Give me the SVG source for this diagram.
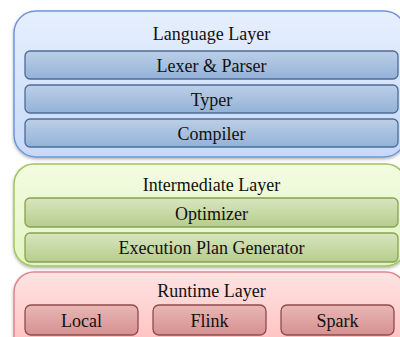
<svg xmlns="http://www.w3.org/2000/svg" width="400" height="337" viewBox="0 0 400 337" font-family="'Liberation Serif', 'DejaVu Serif', serif">
<defs>
<linearGradient id="gBlueO" x1="0" y1="0" x2="0" y2="1"><stop offset="0" stop-color="#e6effd"/><stop offset="1" stop-color="#c7d9f8"/></linearGradient>
<linearGradient id="gBlueI" x1="0" y1="0" x2="0" y2="1"><stop offset="0" stop-color="#bccfe7"/><stop offset="1" stop-color="#93b2d8"/></linearGradient>
<linearGradient id="gGreenO" x1="0" y1="0" x2="0" y2="1"><stop offset="0" stop-color="#f3fbe2"/><stop offset="1" stop-color="#e3f5c2"/></linearGradient>
<linearGradient id="gGreenI" x1="0" y1="0" x2="0" y2="1"><stop offset="0" stop-color="#d9e6bf"/><stop offset="1" stop-color="#b6cc8c"/></linearGradient>
<linearGradient id="gRedO" x1="0" y1="0" x2="0" y2="1"><stop offset="0" stop-color="#ffe3e3"/><stop offset="1" stop-color="#ffb9b9"/></linearGradient>
<linearGradient id="gRedI" x1="0" y1="0" x2="0" y2="1"><stop offset="0" stop-color="#e8b7b7"/><stop offset="1" stop-color="#d79090"/></linearGradient>
<filter id="sh" x="-5%" y="-5%" width="110%" height="115%"><feDropShadow dx="0" dy="1.5" stdDeviation="1.5" flood-color="#000" flood-opacity="0.3"/></filter>
</defs>
<style>
text{font-family:'Liberation Serif','DejaVu Serif',serif;font-size:18px;fill:#111;text-anchor:middle}
.ob{fill:url(#gBlueO);stroke:#6f97d9;stroke-width:1.5}
.ib{fill:url(#gBlueI);stroke:#4d6c97;stroke-width:1.3}
.og{fill:url(#gGreenO);stroke:#a3c465;stroke-width:1.5}
.ig{fill:url(#gGreenI);stroke:#86a253;stroke-width:1.3}
.or{fill:url(#gRedO);stroke:#dc8a8a;stroke-width:1.5}
.ir{fill:url(#gRedI);stroke:#8e4b4b;stroke-width:1.3}
</style>
<g id="language-layer">
<rect class="ob" x="14" y="11" width="392" height="146" rx="22" filter="url(#sh)"/>
<text x="211.5" y="40">Language Layer</text>
</g>
<g id="lexer-parser"><rect class="ib" x="25" y="51" width="373" height="28" rx="5"/><text x="211.5" y="72">Lexer &amp; Parser</text></g>
<g id="typer"><rect class="ib" x="25" y="85" width="373" height="28" rx="5"/><text x="211.5" y="106">Typer</text></g>
<g id="compiler"><rect class="ib" x="25" y="119" width="373" height="28" rx="5"/><text x="211.5" y="140">Compiler</text></g>
<g id="intermediate-layer">
<rect class="og" x="14" y="164" width="392" height="102" rx="20" filter="url(#sh)"/>
<text x="211.5" y="191">Intermediate Layer</text>
</g>
<g id="optimizer"><rect class="ig" x="25" y="198" width="373" height="29" rx="5"/><text x="211.5" y="220">Optimizer</text></g>
<g id="execution-plan-generator"><rect class="ig" x="25" y="233" width="373" height="29" rx="5"/><text x="211.5" y="254">Execution Plan Generator</text></g>
<g id="runtime-layer">
<rect class="or" x="14" y="272" width="392" height="90" rx="20" filter="url(#sh)"/>
<text x="211.5" y="297">Runtime Layer</text>
</g>
<g id="local"><rect class="ir" x="25" y="305" width="113" height="30" rx="6"/><text x="81.5" y="327">Local</text></g>
<g id="flink"><rect class="ir" x="153" y="305" width="113" height="30" rx="6"/><text x="209.5" y="327">Flink</text></g>
<g id="spark"><rect class="ir" x="281" y="305" width="113" height="30" rx="6"/><text x="337.5" y="327">Spark</text></g>
<g id="connectors"/>
</svg>
